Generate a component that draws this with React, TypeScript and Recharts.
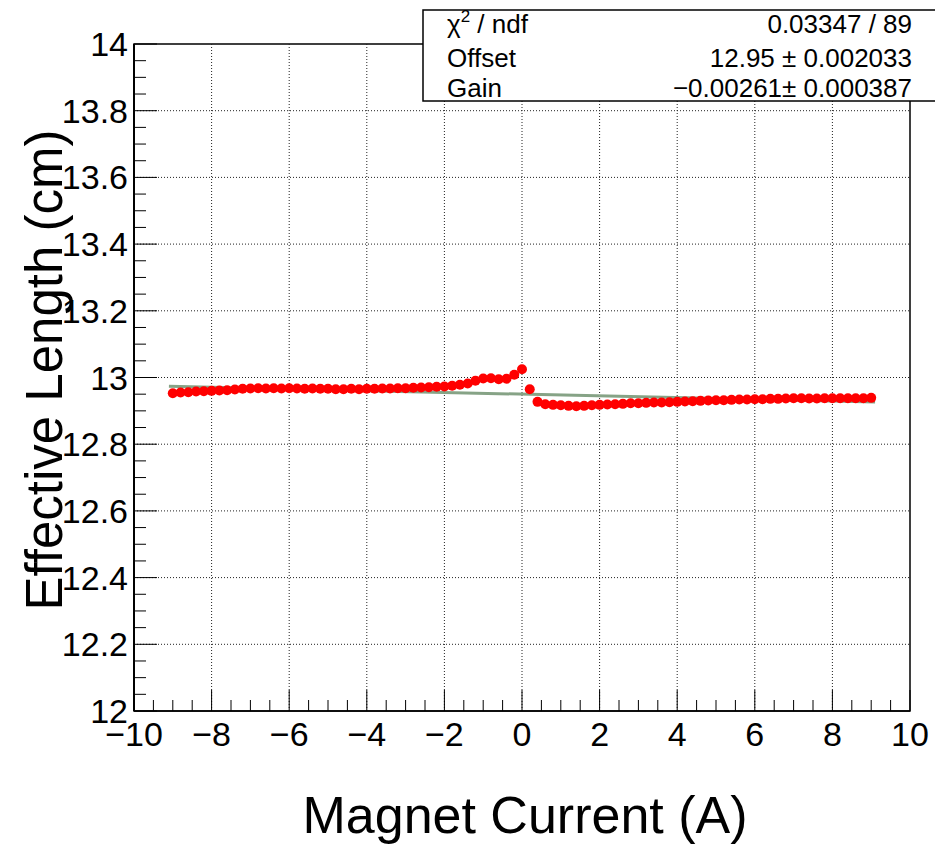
import { ScatterChart, Scatter, XAxis, YAxis, ReferenceLine, ReferenceArea } from "recharts";

const FONT = "'Liberation Sans', Arial, Helvetica, sans-serif";

// measured points: magnet current (A) vs effective length (cm)
const currents = [
  -9.0, -8.8, -8.6, -8.4, -8.2, -8.0, -7.8, -7.6, -7.4, -7.2,
  -7.0, -6.8, -6.6, -6.4, -6.2, -6.0, -5.8, -5.6, -5.4, -5.2,
  -5.0, -4.8, -4.6, -4.4, -4.2, -4.0, -3.8, -3.6, -3.4, -3.2,
  -3.0, -2.8, -2.6, -2.4, -2.2, -2.0, -1.8, -1.6, -1.4, -1.2,
  -1.0, -0.8, -0.6, -0.4, -0.2, 0.0, 0.2, 0.4, 0.6, 0.8,
  1.0, 1.2, 1.4, 1.6, 1.8, 2.0, 2.2, 2.4, 2.6, 2.8,
  3.0, 3.2, 3.4, 3.6, 3.8, 4.0, 4.2, 4.4, 4.6, 4.8,
  5.0, 5.2, 5.4, 5.6, 5.8, 6.0, 6.2, 6.4, 6.6, 6.8,
  7.0, 7.2, 7.4, 7.6, 7.8, 8.0, 8.2, 8.4, 8.6, 8.8,
  9.0,
];
const lengths = [
  12.953, 12.955, 12.956, 12.958, 12.959, 12.960, 12.961, 12.962, 12.964, 12.966,
  12.967, 12.968, 12.967, 12.968, 12.967, 12.968, 12.967, 12.966, 12.967, 12.966,
  12.966, 12.965, 12.965, 12.966, 12.965, 12.966, 12.966, 12.967, 12.967, 12.968,
  12.968, 12.969, 12.970, 12.971, 12.972, 12.973, 12.975, 12.978, 12.982, 12.990,
  12.997, 12.998, 12.995, 12.996, 13.008, 13.025, 12.965, 12.927, 12.920, 12.918,
  12.917, 12.915, 12.914, 12.915, 12.917, 12.918, 12.919, 12.920, 12.921, 12.923,
  12.923, 12.924, 12.925, 12.925, 12.926, 12.927, 12.928, 12.929, 12.930, 12.931,
  12.932, 12.932, 12.933, 12.934, 12.934, 12.935, 12.935, 12.936, 12.936, 12.937,
  12.938, 12.938, 12.937, 12.937, 12.938, 12.938, 12.938, 12.938, 12.938, 12.938,
  12.939,
];

// fitted line end points (Offset 12.95, Gain -0.00261)
const fitX = [-9.1, 9.1];
const fitY = [12.9738, 12.9262];

const xMajor = [-10, -8, -6, -4, -2, 0, 2, 4, 6, 8, 10];
const yMajor = [12, 12.2, 12.4, 12.6, 12.8, 13, 13.2, 13.4, 13.6, 13.8, 14];

const statsLabels = ["Offset", "Gain"];
const statsValues = ["12.95 \u00b1 0.002033", "\u22120.00261\u00b1 0.000387"];

const data = currents.map((x, i) => ({ x, y: lengths[i] }));

// minor ticks: x every 0.5, y every 0.05
const xTicks: number[] = [];
for (let i = 0; i <= 40; i++) xTicks.push(-10 + i * 0.5);
const yTicks: number[] = [];
for (let i = 0; i <= 40; i++) yTicks.push(Math.round((12 + i * 0.05) * 100) / 100);

const isMajor = (v: number, majors: number[]) => majors.some((m) => Math.abs(m - v) < 1e-6);
const fmt = (v: number) => (v < 0 ? "\u2212" + Math.abs(v) : String(v));

function XTick(props: any) {
  const { x, y, payload } = props;
  const major = isMajor(payload.value, xMajor);
  return (
    <g>
      <line x1={x} x2={x} y1={y} y2={y - (major ? 21 : 11)} stroke="#000" strokeWidth={1} />
      {major && (
        <text x={x} y={y + 35} textAnchor="middle" fontSize={34} fontFamily={FONT} fill="#000">
          {fmt(payload.value)}
        </text>
      )}
    </g>
  );
}

function YTick(props: any) {
  const { x, y, payload } = props;
  const major = isMajor(payload.value, yMajor);
  return (
    <g>
      <line x1={x} x2={x + (major ? 23 : 12)} y1={y} y2={y} stroke="#000" strokeWidth={1} />
      {major && (
        <text x={x - 6} y={y + 12} textAnchor="end" fontSize={34} fontFamily={FONT} fill="#000">
          {fmt(payload.value)}
        </text>
      )}
    </g>
  );
}

export default function App() {
  return (
    <div style={{ position: "absolute", left: 0, top: 0, width: 935, height: 844, background: "#fff", fontFamily: FONT }}>
      <ScatterChart width={935} height={844} margin={{ top: 44, right: 25, bottom: 0, left: 0 }}>
        <XAxis
          type="number" dataKey="x" domain={[-10, 10]} ticks={xTicks} interval={0}
          height={133} tickSize={0} tickMargin={0} tick={<XTick />} axisLine={{ stroke: "#000", strokeWidth: 1.5 }}
          allowDataOverflow
        />
        <YAxis
          type="number" dataKey="y" domain={[12, 14]} ticks={yTicks} interval={0}
          width={134} tickSize={0} tickMargin={0} tick={<YTick />} axisLine={{ stroke: "#000", strokeWidth: 2 }}
          allowDataOverflow
        />
        {yMajor.slice(1, -1).map((v) => (
          <ReferenceLine key={"gy" + v} y={v} stroke="#222" strokeDasharray="1 2" />
        ))}
        {xMajor.slice(1, -1).map((v) => (
          <ReferenceLine key={"gx" + v} x={v} stroke="#222" strokeDasharray="1 2" />
        ))}
        <ReferenceArea x1={-10} x2={10} y1={12} y2={14} fill="none" fillOpacity={0} stroke="#000" strokeWidth={1.5} />
        <Scatter data={data} fill="#ff0000" isAnimationActive={false} shape={(p: any) => <circle cx={p.cx} cy={p.cy} r={5} fill="#ff0000" />} />
        <ReferenceLine
          segment={[{ x: fitX[0], y: fitY[0] }, { x: fitX[1], y: fitY[1] }]}
          stroke="#86a386" strokeWidth={3}
        />
      </ScatterChart>

      <svg width={935} height={110} style={{ position: "absolute", left: 0, top: 0 }}>
        <rect x={423} y={10} width={520} height={91} fill="#fff" stroke="#000" strokeWidth={1.5} />
        <g fontFamily={FONT} fontSize={26} fill="#000">
          <text x={447} y={33}>
            {"\u03c7"}
            <tspan fontSize={17} dy={-11}>2</tspan>
            <tspan dy={11}> / ndf</tspan>
          </text>
          <text x={912} y={33} textAnchor="end">0.03347 / 89</text>
          {statsLabels.map((l, i) => (
            <text key={l} x={447} y={67 + i * 30}>{l}</text>
          ))}
          {statsValues.map((v, i) => (
            <text key={v} x={912} y={67 + i * 30} textAnchor="end">{v}</text>
          ))}
        </g>
      </svg>

      <svg width={935} height={844} style={{ position: "absolute", left: 0, top: 0, pointerEvents: "none" }}>
        <text x={525} y={833} textAnchor="middle" fontSize={52} fontFamily={FONT} fill="#000">
          Magnet Current (A)
        </text>
        <text x={62} y={370} transform="rotate(-90 62 370)" textAnchor="middle" fontSize={51} fontFamily={FONT} fill="#000">
          Effective Length (cm)
        </text>
      </svg>
    </div>
  );
}
